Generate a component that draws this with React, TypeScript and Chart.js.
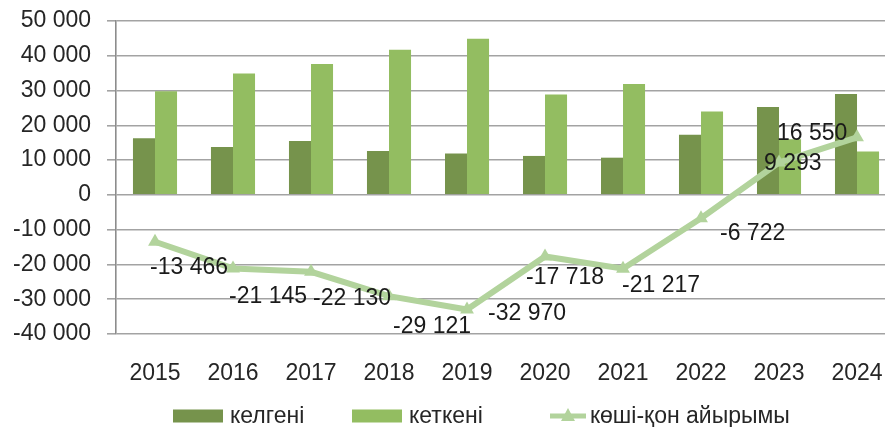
import React, { useEffect, useRef } from "react";
import { Chart, registerables } from "chart.js";

Chart.register(...registerables);

const categories = ["2015", "2016", "2017", "2018", "2019", "2020", "2021", "2022", "2023", "2024"];
const arrived = [16300, 13800, 15500, 12600, 11900, 11200, 10700, 17300, 25300, 29000];
const departed = [29800, 34900, 37600, 41700, 44900, 28900, 31900, 24000, 16000, 12450];
const netMigration = [-13466, -21145, -22130, -29121, -32970, -17718, -21217, -6722, 9293, 16550];
const seriesNames = ["келгені", "кеткені", "көші-қон айырымы"];

const DARK = "#76934c";
const LIGHT = "#93bd61";
const LINE = "#b2d39c";
const TEXT = "#262626";
const FONT = "'Liberation Sans', Arial, sans-serif";

// label offsets (px) relative to each point: left edge dx, vertical middle dy
const labelOffsets: [number, number][] = [
  [-5, 26], [-4, 28], [2, 27], [4, 30], [21, 4], [-19, 21], [-1, 17], [19, 15], [-15, 1], [-80, -4],
];
const legendX = [173, 352, 550];
const legendY = 416;

const fmt = (v: number) => {
  const s = Math.abs(Math.round(v)).toString().replace(/\B(?=(\d{3})+(?!\d))/g, " ");
  return (v < 0 ? "-" : "") + s;
};

const labelsPlugin = {
  id: "lineLabels",
  afterDatasetsDraw(chart: any) {
    const meta = chart.getDatasetMeta(2);
    const ctx = chart.ctx;
    ctx.save();
    ctx.font = `23px ${FONT}`;
    ctx.fillStyle = "#1a1a1a";
    ctx.textAlign = "left";
    ctx.textBaseline = "middle";
    meta.data.forEach((pt: any, i: number) => {
      const [dx, dy] = labelOffsets[i];
      ctx.fillText(fmt(netMigration[i]), pt.x + dx, pt.y + dy);
    });
    ctx.restore();
  },
};

const legendPlugin = {
  id: "customLegend",
  afterDraw(chart: any) {
    const ctx = chart.ctx;
    ctx.save();
    ctx.font = `23px ${FONT}`;
    ctx.fillStyle = TEXT;
    ctx.textBaseline = "middle";
    ctx.textAlign = "left";
    [DARK, LIGHT].forEach((c, i) => {
      ctx.fillStyle = c;
      ctx.fillRect(legendX[i], legendY - 6.5, 50, 13);
      ctx.fillStyle = TEXT;
      ctx.fillText(seriesNames[i], legendX[i] + 57, legendY + 1);
    });
    const x = legendX[2];
    ctx.strokeStyle = LINE;
    ctx.lineWidth = 5;
    ctx.beginPath();
    ctx.moveTo(x, legendY);
    ctx.lineTo(x + 36, legendY);
    ctx.stroke();
    ctx.fillStyle = LINE;
    ctx.beginPath();
    ctx.moveTo(x + 18, legendY - 8);
    ctx.lineTo(x + 25, legendY + 5);
    ctx.lineTo(x + 11, legendY + 5);
    ctx.closePath();
    ctx.fill();
    ctx.fillStyle = TEXT;
    ctx.fillText(seriesNames[2], x + 40, legendY + 1);
    ctx.restore();
  },
};

export default function App() {
  const ref = useRef<HTMLCanvasElement>(null);
  useEffect(() => {
    document.body.style.margin = "0";
    const chart = new Chart(ref.current!, {
      type: "bar",
      data: {
        labels: categories,
        datasets: [
          {
            type: "bar",
            label: seriesNames[0],
            data: arrived,
            backgroundColor: DARK,
            barPercentage: 1,
            categoryPercentage: 0.565,
            order: 1,
          },
          {
            type: "bar",
            label: seriesNames[1],
            data: departed,
            backgroundColor: LIGHT,
            barPercentage: 1,
            categoryPercentage: 0.565,
            order: 1,
          },
          {
            type: "line",
            label: seriesNames[2],
            data: netMigration,
            borderColor: LINE,
            backgroundColor: LINE,
            borderWidth: 6,
            pointStyle: "triangle",
            pointRadius: 8,
            pointBorderWidth: 0,
            pointBackgroundColor: LINE,
            tension: 0,
            order: 0,
          } as any,
        ],
      },
      options: {
        responsive: false,
        animation: false,
        devicePixelRatio: 1,
        layout: { padding: { left: 0, right: -9, top: 21, bottom: 0 } },
        plugins: { legend: { display: false }, tooltip: { enabled: false } },
        scales: {
          x: {
            grid: { display: false, drawTicks: false },
            border: { display: false },
            ticks: { color: TEXT, font: { family: FONT, size: 23 }, padding: 26 },
            afterFit: (s: any) => {
              s.height = 93;
            },
          },
          y: {
            min: -40000,
            max: 50000,
            grid: { color: "#a3a3a3", lineWidth: 1.6, tickLength: 9, drawTicks: true },
            border: { display: true, color: "#8c8c8c", width: 1.6 },
            ticks: {
              stepSize: 10000,
              color: TEXT,
              font: { family: FONT, size: 23, lineHeight: 0.2 },
              padding: 16,
              callback: (v: any) => fmt(Number(v)),
            },
            afterFit: (s: any) => {
              s.width = 116;
            },
          },
        },
      },
      plugins: [labelsPlugin, legendPlugin],
    });
    return () => chart.destroy();
  }, []);
  return (
    <div style={{ width: 885, height: 427, overflow: "hidden", background: "#fff" }}>
      <canvas ref={ref} width={909} height={427} style={{ display: "block" }} />
    </div>
  );
}
